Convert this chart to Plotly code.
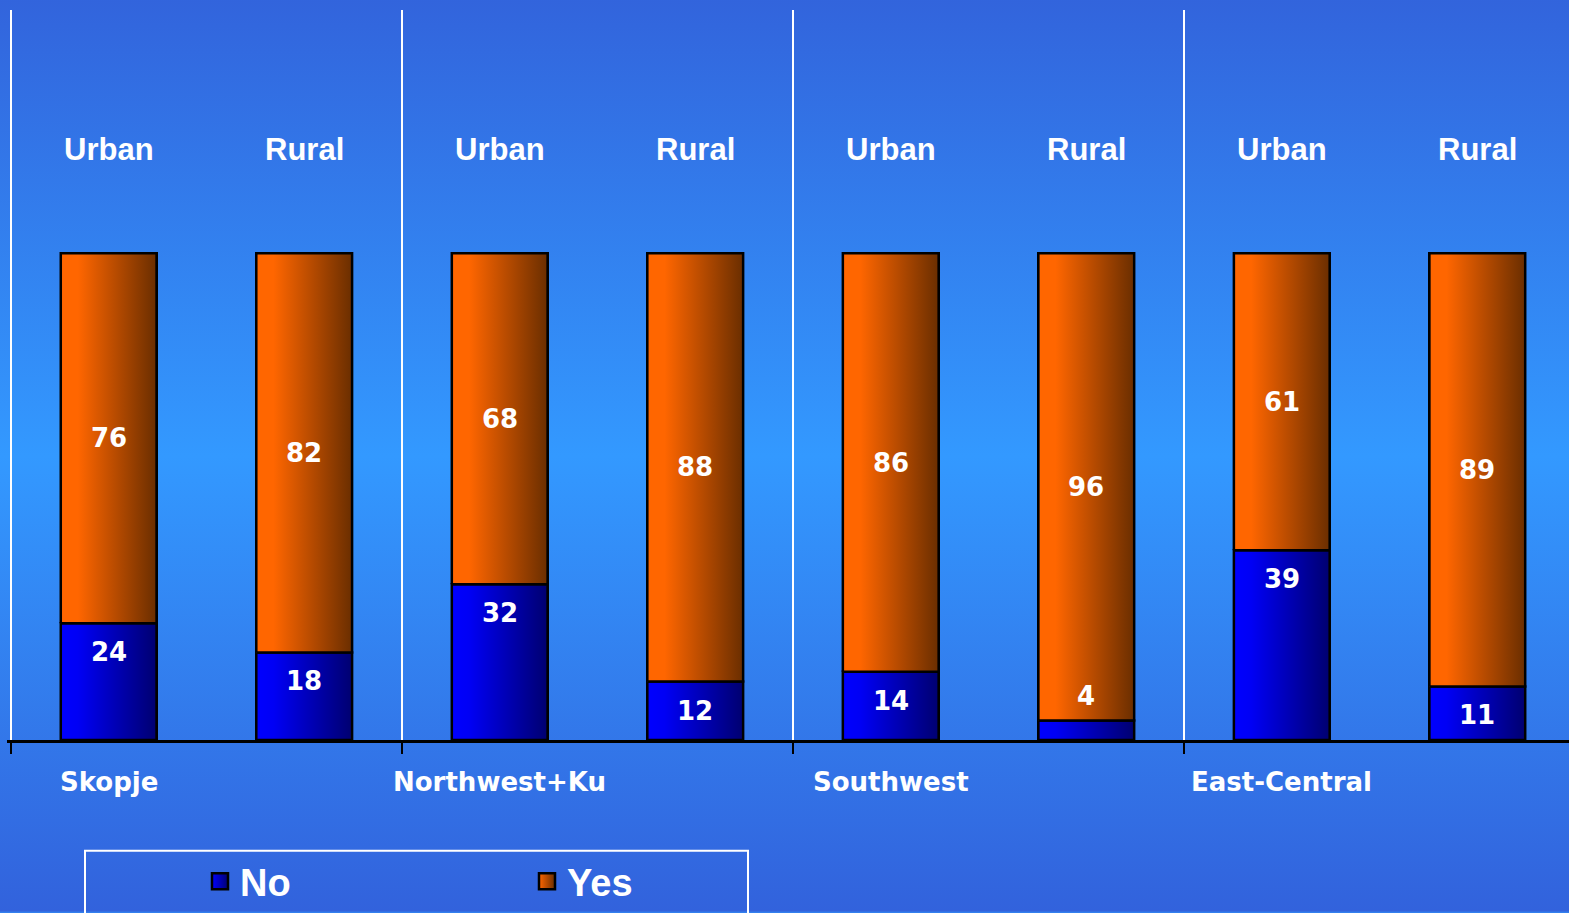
import base64
import numpy as np
import plotly.graph_objects as go

# data
regions = ['Skopje', 'Northwest+Ku', 'Southwest', 'East-Central']
areas = ['Urban', 'Rural']
no_vals = [24, 18, 32, 12, 14, 4, 39, 11]
yes_vals = [76, 82, 68, 88, 86, 96, 61, 89]

xs = np.arange(len(no_vals))
bar_w = 0.49

ORANGE_SCALE = [[0, '#ff6600'], [0.18, '#ff6600'], [1, '#6a2e00']]
BLUE_SCALE = [[0, '#0000ff'], [0.18, '#0000f5'], [1, '#000070']]

# vertical gradient background as an svg image
svg = ("<svg xmlns='http://www.w3.org/2000/svg' width='100' height='100' viewBox='0 0 100 100' "
       "preserveAspectRatio='none'><defs><linearGradient id='g' x1='0' y1='0' x2='0' y2='1'>"
       "<stop offset='0' stop-color='#3264dc'/><stop offset='0.5' stop-color='#3399ff'/>"
       "<stop offset='1' stop-color='#3262dc'/></linearGradient></defs>"
       "<rect width='100' height='100' fill='url(#g)'/></svg>")
bg_src = "data:image/svg+xml;base64," + base64.b64encode(svg.encode()).decode()

fig = go.Figure()

# plain stacked bars
fig.add_trace(go.Bar(x=xs, y=no_vals, name='No', width=bar_w, showlegend=False,
                     marker=dict(color='#0000c0', line=dict(color='black', width=2))))
fig.add_trace(go.Bar(x=xs, y=yes_vals, name='Yes', width=bar_w, showlegend=False,
                     marker=dict(color='#c04a00', line=dict(color='black', width=2))))

# gradient overlays on each segment
for i in range(len(xs)):
    x0, x1 = xs[i] - bar_w / 2, xs[i] + bar_w / 2
    segs = [(0, no_vals[i], BLUE_SCALE), (no_vals[i], no_vals[i] + yes_vals[i], ORANGE_SCALE)]
    for b, t, cs in segs:
        fig.add_trace(go.Scatter(
            x=[x0, x1, x1, x0, x0], y=[b, b, t, t, b],
            mode='lines', fill='toself',
            fillgradient=dict(type='horizontal', colorscale=cs),
            line=dict(color='black', width=2.5),
            hoverinfo='skip', showlegend=False))

# legend entries (bigger square swatches)
for name, c0, c1 in [('No', '#0000ff', '#000070'), ('Yes', '#ff6600', '#6a2e00')]:
    fig.add_trace(go.Scatter(x=[None], y=[None], mode='markers', name=name,
                             marker=dict(symbol='square', size=16, color=c0,
                                         gradient=dict(type='horizontal', color=c1),
                                         line=dict(color='black', width=2.5))))

num_font = dict(family='DejaVu Sans', size=26, color='white', weight='bold')
annotations = []
for i in range(len(xs)):
    annotations.append(dict(x=xs[i], y=121.3, text=areas[i % 2], showarrow=False,
                            font=dict(family='Arial', size=31, color='white', weight='bold')))
    annotations.append(dict(x=xs[i], y=no_vals[i] + yes_vals[i] / 2, text=str(yes_vals[i]),
                            showarrow=False, font=num_font))
    shift = 25 if no_vals[i] < 8 else -29
    annotations.append(dict(x=xs[i], y=no_vals[i], yshift=shift, text=str(no_vals[i]),
                            showarrow=False, font=num_font))
for g, name in enumerate(regions):
    annotations.append(dict(x=2 * g, xref='x', y=(741 - 783) / 731, yref='paper',
                            yanchor='middle', text=name, showarrow=False, font=num_font))

fig.update_layout(
    width=1569, height=913,
    margin=dict(l=7, r=0, t=10, b=172),
    barmode='stack',
    paper_bgcolor='#3380ee',
    plot_bgcolor='rgba(0,0,0,0)',
    annotations=annotations,
    images=[dict(source=bg_src, xref='paper', yref='paper', x=-7 / 1562, y=1 + 10 / 731,
                 sizex=1 + 7 / 1562, sizey=913 / 731, sizing='stretch',
                 xanchor='left', yanchor='top', layer='below')],
    shapes=[dict(type='rect', xref='paper', yref='paper',
                 x0=(85 - 7) / 1562, x1=(748 - 7) / 1562,
                 y0=(741 - 930) / 731, y1=(741 - 852) / 731,
                 line=dict(color='white', width=2), fillcolor='rgba(0,0,0,0)')],
    legend=dict(orientation='h', x=(200 - 7) / 1562, xanchor='left',
                y=(741 - 883) / 731, yanchor='middle',
                bgcolor='rgba(0,0,0,0)', entrywidth=282,
                font=dict(family='Arial', size=38, color='white', weight='bold'),
                traceorder='normal'),
    showlegend=True,
)

fig.update_xaxes(range=[-0.52, 7.469], tickvals=[-0.5, 1.5, 3.5, 5.5], showticklabels=False,
                 showgrid=True, gridcolor='white', gridwidth=2,
                 ticks='outside', ticklen=11, tickwidth=2, tickcolor='black',
                 showline=True, linecolor='black', linewidth=2.5, zeroline=False)
fig.update_yaxes(range=[0, 150], visible=False)

fig.write_html("out.html", config={'displayModeBar': False},
               post_script="document.body.style.margin='0';")
